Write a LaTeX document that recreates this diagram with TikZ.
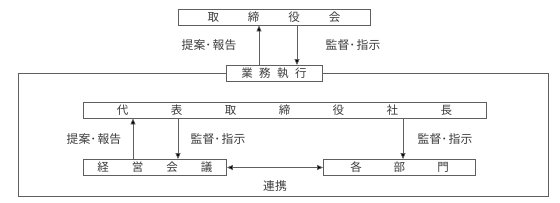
\documentclass[tikz,border=0pt]{standalone}
\usepackage{fontspec}
\setmainfont{Noto Sans CJK JP}
\usetikzlibrary{arrows.meta}
\definecolor{linec}{RGB}{95,95,95}
\definecolor{textc}{RGB}{60,60,60}
\tikzset{
  box/.style={draw=linec, line width=0.8pt, fill=white, inner sep=0pt, minimum height=16pt, text=textc, font=\fontsize{11.5}{12}\selectfont},
  lbl/.style={inner sep=0pt, text=textc, font=\fontsize{11.8}{12}\selectfont},
  arr/.style={draw=linec, line width=0.7pt, -{Triangle[length=6pt,width=5pt,fill=black]}},
  arrb/.style={draw=linec, line width=0.7pt, {Triangle[length=6pt,width=5pt,fill=black]}-{Triangle[length=6pt,width=5pt,fill=black]}},
  frame/.style={draw=linec, line width=0.8pt}
}
\begin{document}
\begin{tikzpicture}[x=1pt,y=-1pt]
\useasboundingbox (0,0) rectangle (560,203);
% outer frame
\draw[frame] (18,73.5) rectangle (548,196);
% boxes
\node[box, minimum width=192pt] (board) at (274,17) {取\hspace{29pt}締\hspace{29pt}役\hspace{29pt}会};
\node[box, minimum width=96pt] (exec) at (274,73.5) {業\hspace{6.5pt}務\hspace{6.5pt}執\hspace{6.5pt}行};
\node[box, minimum width=403pt] (ceo) at (284.5,110) {代\hspace{42.5pt}表\hspace{42.5pt}取\hspace{42.5pt}締\hspace{42.5pt}役\hspace{42.5pt}社\hspace{42.5pt}長};
\node[box, minimum width=143.5pt] (mgmt) at (154.75,167.5) {経\hspace{23pt}営\hspace{23pt}会\hspace{23pt}議};
\node[box, minimum width=152pt] (depts) at (399.5,167.5) {各\hspace{32pt}部\hspace{32pt}門};
% arrow columns
\coordinate (c1) at (259,0);
\coordinate (c2) at (297,0);
\coordinate (c3) at (133,0);
\coordinate (c4) at (178,0);
\coordinate (c5) at (403,0);
\draw[arr] (c1 |- exec.north) -- (c1 |- board.south);
\draw[arr] (c2 |- board.south) -- (c2 |- exec.north);
\draw[arr] (c3 |- mgmt.north) -- (c3 |- ceo.south);
\draw[arr] (c4 |- ceo.south) -- (c4 |- mgmt.north);
\draw[arr] (c5 |- ceo.south) -- (c5 |- depts.north);
\draw[arrb] (mgmt.east) -- (depts.west);
% labels
\node[lbl] (l1) at (209,45) {提案･\hspace{1.5pt}報告};
\node[lbl] (l2) at (353,45) {監督･\hspace{1.5pt}指示};
\node[lbl] (l3) at (94,139) {提案･\hspace{1.5pt}報告};
\node[lbl] (l4) at (218,139) {監督･\hspace{1.5pt}指示};
\node[lbl] (l5) at (445,139) {監督･\hspace{1.5pt}指示};
\node[lbl] (l6) at (275,186) {連携};
\end{tikzpicture}
\end{document}
